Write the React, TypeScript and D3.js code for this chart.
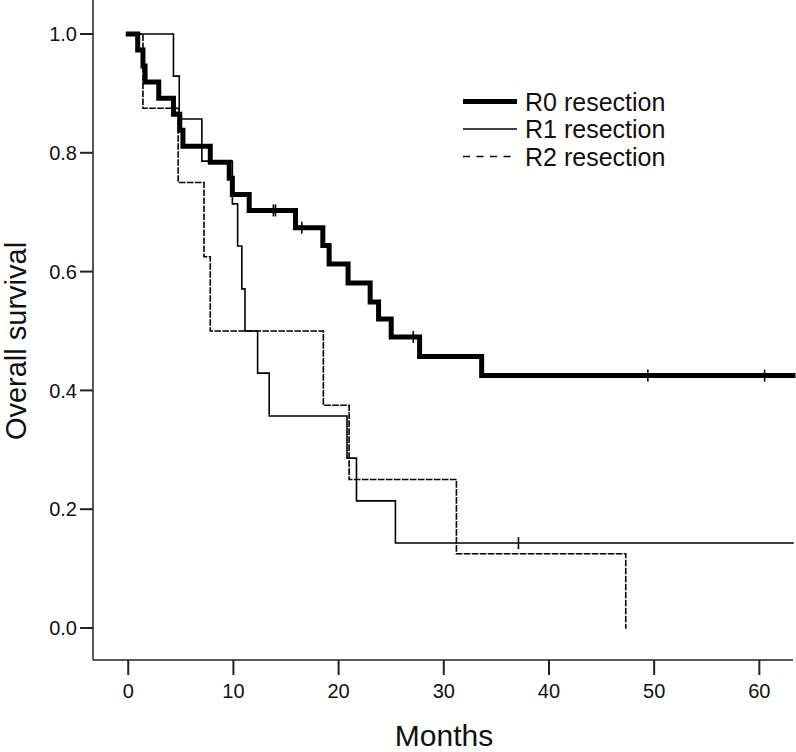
import React from "react";
import * as d3 from "d3";

// Kaplan–Meier step data: [time (months), survival after the event]
const r0Steps: [number, number][] = [
  [0.9, 0.973], [1.4, 0.946], [1.6, 0.919], [2.9, 0.892], [4.3, 0.865],
  [4.9, 0.838], [5.2, 0.811], [7.8, 0.784], [9.6, 0.757], [9.9, 0.73],
  [11.5, 0.703], [15.9, 0.674], [18.5, 0.644], [19.1, 0.613], [20.9, 0.581],
  [23.0, 0.549], [23.8, 0.52], [25.0, 0.49], [27.7, 0.457], [33.6, 0.425],
];
const r0Censored: number[] = [13.8, 14.0, 16.5, 27.1, 49.4, 60.5];

const r1Steps: [number, number][] = [
  [4.3, 0.929], [4.85, 0.857], [7.0, 0.786], [9.9, 0.714], [10.4, 0.643],
  [10.8, 0.571], [11.1, 0.5], [12.3, 0.429], [13.4, 0.357], [20.8, 0.286],
  [21.7, 0.214], [25.4, 0.143],
];
const r1Censored: number[] = [37.1];

const r2Steps: [number, number][] = [
  [1.4, 0.875], [4.75, 0.75], [7.2, 0.625], [7.8, 0.5], [18.55, 0.375],
  [21.0, 0.25], [31.2, 0.125], [47.3, 0.0],
];
const r2Censored: number[] = [];

const xTicks = [0, 10, 20, 30, 40, 50, 60];
const yTicks = [0, 0.2, 0.4, 0.6, 0.8, 1.0];
const legendLabels = ["R0 resection", "R1 resection", "R2 resection"];

const W = 796;
const H = 752;
const FONT = "'Liberation Sans', Arial, Helvetica, sans-serif";

const xDomain: [number, number] = [-3.35, 63.2];
const x = d3.scaleLinear().domain(xDomain).range([93, 793]);
const y = d3.scaleLinear().domain([0, 1]).range([628, 34]);

function buildPoints(steps: [number, number][], extendToEnd: boolean): [number, number][] {
  const pts: [number, number][] = [[0, 1]];
  steps.forEach((s) => pts.push(s));
  if (extendToEnd) pts.push([xDomain[1], steps[steps.length - 1][1]]);
  return pts;
}

function survivalAt(steps: [number, number][], t: number): number {
  let s = 1;
  for (const [tt, v] of steps) if (tt <= t) s = v;
  return s;
}

const line = d3
  .line<[number, number]>()
  .x((d) => x(d[0]))
  .y((d) => y(d[1]))
  .curve(d3.curveStepAfter);

export default function App() {
  const series = [
    { steps: r0Steps, cens: r0Censored, width: 5, dash: undefined as string | undefined, extend: true },
    { steps: r1Steps, cens: r1Censored, width: 1.6, dash: undefined, extend: true },
    { steps: r2Steps, cens: r2Censored, width: 1.6, dash: "5,3", extend: false },
  ];
  const legendY = [101.5, 129, 156.5];
  return (
    <svg
      width={W}
      height={H}
      style={{ position: "absolute", left: 0, top: 0, display: "block", background: "#fff" }}
    >
      {/* axes */}
      <line x1={93} x2={93} y1={0} y2={660} stroke="#222" strokeWidth={1.5} />
      <line x1={93} x2={793} y1={660} y2={660} stroke="#222" strokeWidth={1.5} />
      {yTicks.map((t) => (
        <g key={"y" + t}>
          <line x1={80} x2={93} y1={y(t)} y2={y(t)} stroke="#222" strokeWidth={2} />
          <text
            x={77}
            y={y(t)}
            dy="0.36em"
            textAnchor="end"
            fontFamily={FONT}
            fontSize={20}
            fill="#111"
          >
            {t.toFixed(1)}
          </text>
        </g>
      ))}
      {xTicks.map((t) => (
        <g key={"x" + t}>
          <line x1={x(t)} x2={x(t)} y1={660} y2={675} stroke="#222" strokeWidth={2} />
          <text
            x={x(t)}
            y={698}
            textAnchor="middle"
            fontFamily={FONT}
            fontSize={20}
            fill="#111"
          >
            {t}
          </text>
        </g>
      ))}
      <text
        x={444}
        y={746}
        textAnchor="middle"
        fontFamily={FONT}
        fontSize={30}
        fill="#111"
      >
        Months
      </text>
      <text
        transform="translate(26,341) rotate(-90)"
        textAnchor="middle"
        fontFamily={FONT}
        fontSize={29}
        fill="#111"
      >
        Overall survival
      </text>

      {/* curves */}
      {series.map((s, i) => (
        <g key={"s" + i}>
          <path
            d={line(buildPoints(s.steps, s.extend)) || ""}
            fill="none"
            stroke="#000"
            strokeWidth={s.width}
            strokeDasharray={s.dash}
            strokeLinejoin="miter"
            strokeLinecap="square"
          />
          {s.cens.map((c, j) => (
            <line
              key={j}
              x1={x(c)}
              x2={x(c)}
              y1={y(survivalAt(s.steps, c)) - 6}
              y2={y(survivalAt(s.steps, c)) + 6}
              stroke="#000"
              strokeWidth={1.6}
            />
          ))}
        </g>
      ))}

      {/* legend */}
      {legendLabels.map((lab, i) => (
        <g key={"l" + i}>
          <line
            x1={463}
            x2={517}
            y1={legendY[i]}
            y2={legendY[i]}
            stroke="#000"
            strokeWidth={i === 0 ? 5 : 1.6}
            strokeDasharray={i === 2 ? "7,6.5" : undefined}
          />
          <text
            x={525}
            y={legendY[i]}
            dy="0.36em"
            fontFamily={FONT}
            fontSize={25}
            fill="#111"
          >
            {lab}
          </text>
        </g>
      ))}
    </svg>
  );
}
